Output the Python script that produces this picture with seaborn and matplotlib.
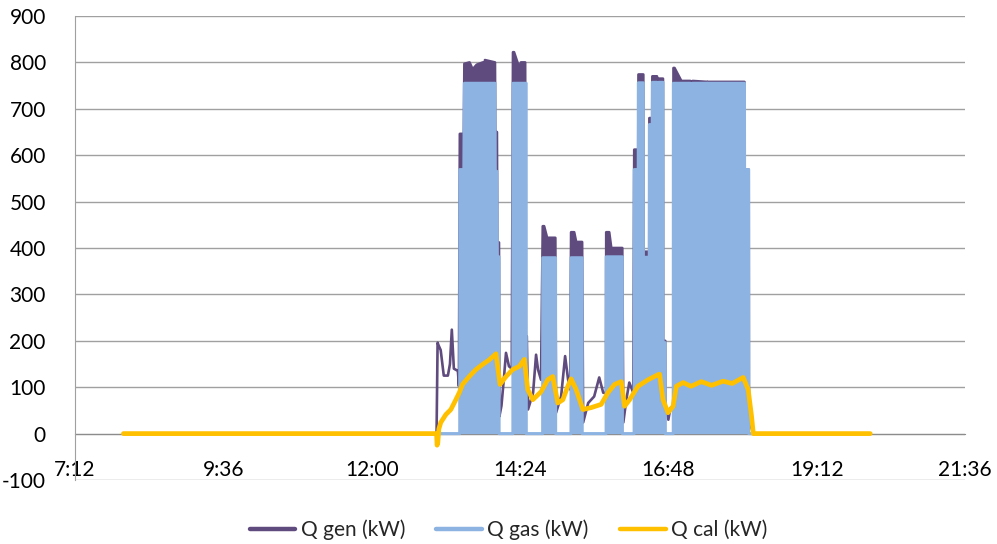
import numpy as np
import matplotlib
matplotlib.use("Agg")
import matplotlib.pyplot as plt
from matplotlib.lines import Line2D
import seaborn as sns

# ------------------------------------------------------------------
# Data (clock time, kW)
# ------------------------------------------------------------------
gen_time = ["8:00", "13:03", "13:04", "13:05", "13:07", "13:10", "13:14", "13:16",
            "13:17:48", "13:19:48", "13:23:42", "13:24:42", "13:25:36", "13:29:30",
            "13:30", "13:35", "13:38", "13:42", "13:48", "13:48:48", "13:49:18",
            "13:50", "13:59:42", "14:00", "14:01:36", "14:02", "14:03:36", "14:04",
            "14:06", "14:08:24", "14:10:24", "14:13:18", "14:16", "14:17:12",
            "14:18:12", "14:23", "14:25", "14:29", "14:29:36", "14:30:36",
            "14:31:48", "14:36:42", "14:39:36", "14:41:30", "14:44:24", "14:46:06",
            "14:47:24", "14:50:18", "14:58:18", "14:59", "15:03:54", "15:07:48",
            "15:10:42", "15:12:42", "15:13:36", "15:16:36", "15:18:30", "15:24:18",
            "15:25:18", "15:30:12", "15:36", "15:40:54", "15:44:48", "15:47:30",
            "15:47:42", "15:50:36", "15:52:36", "16:03:18", "16:04:18", "16:07:12",
            "16:10:06", "16:14", "16:14:54", "16:18:48", "16:19", "16:23:42",
            "16:24", "16:29:30", "16:29:36", "16:32:24", "16:32:30", "16:37",
            "16:37:12", "16:38:24", "16:38:36", "16:42:48", "16:43", "16:45",
            "16:45:12", "16:48", "16:50", "16:52:48", "16:53", "16:54", "17:00:36",
            "17:09:24", "17:09:36", "17:11:18", "17:11:30", "17:25:42", "17:25:54",
            "17:26:12", "18:01:54", "18:02", "18:06", "18:06:12", "18:10:30", "20:04"]
gen_kw = [0, 0, 196, 190, 180, 125, 125, 150,
          224, 140, 135, 102, 646, 646,
          797, 800, 785, 795, 800, 570, 570,
          805, 800, 650, 650, 412, 412, 37,
          60, 120, 174, 145, 140, 822,
          822, 790, 800, 800, 210, 210,
          52, 88, 170, 138, 116, 447,
          447, 422, 422, 45, 80, 167,
          116, 95, 434, 434, 413, 413,
          24, 66, 80, 121, 88, 88,
          434, 434, 400, 400, 24, 73,
          110, 88, 612, 612, 774, 774,
          392, 392, 680, 680, 770, 770,
          727, 727, 765, 765, 200, 200,
          59, 30, 55, 60, 788, 788, 760,
          760, 721, 721, 760, 758, 571,
          758, 758, 569, 569, 30, 0, 0]

gas_time = ["8:00", "13:25:30", "13:25:36", "13:29:30", "13:30", "13:48:36",
            "13:48:48", "13:49:24", "13:49:36", "13:59:42", "14:00", "14:01:36",
            "14:02", "14:03:36", "14:03:42", "14:17:06", "14:17:12", "14:30",
            "14:30:06", "14:46", "14:46:06", "14:58:30", "14:58:36", "15:13:30",
            "15:13:36", "15:24:18", "15:24:24", "15:47:36", "15:47:42", "16:03:18",
            "16:03:24", "16:14:48", "16:14:54", "16:18:48", "16:18:54", "16:23:42",
            "16:23:48", "16:29:30", "16:29:36", "16:32:24", "16:32:30", "16:37",
            "16:37:06", "16:38:30", "16:38:36", "16:42:48", "16:42:54", "16:45",
            "16:45:06", "16:52:48", "16:52:54", "17:09:24", "17:09:30", "17:11:18",
            "17:11:24", "17:25:42", "17:25:54", "17:26:06", "18:01:54", "18:02",
            "18:06", "18:06:06", "20:04"]
gas_kw = [0, 0, 569, 569, 755, 755,
          570, 570, 755, 755, 565, 565,
          381, 381, 0, 0, 755, 755,
          0, 0, 379, 379, 0, 0,
          379, 379, 0, 0, 381, 381,
          0, 0, 569, 569, 756, 756,
          380, 380, 666, 666, 757, 757,
          715, 715, 757, 757, 196, 196,
          0, 0, 755, 755, 715, 715,
          755, 755, 571, 755, 755, 569,
          569, 0, 0]

cal_time = ["7:59", "13:03", "13:03:30", "13:04:12", "13:05:12", "13:07:06", "13:12",
            "13:16:54", "13:21:42", "13:25", "13:28:12", "13:34:42", "13:41:12",
            "13:47:42", "13:54:06", "14:00:42", "14:04:36", "14:10:24", "14:16:54",
            "14:23:24", "14:28:12", "14:31:30", "14:36:24", "14:44:24", "14:50:54",
            "14:55:48", "15:00:42", "15:05:36", "15:10:24", "15:13:36", "15:18:30",
            "15:25", "15:33:06", "15:42:48", "15:49:18", "15:55:48", "16:02:18",
            "16:05:30", "16:10:24", "16:18:30", "16:28:18", "16:38", "16:39:30",
            "16:42:48", "16:47:42", "16:52:36", "16:55:48", "17:02:18", "17:10",
            "17:20", "17:30", "17:41:12", "17:50", "18:00:42", "18:05:30",
            "18:08:48", "18:10:30", "20:04"]
cal_kw = [0, 0, -25, -20, 10, 24, 41,
          52, 73, 88, 106, 123, 138,
          149, 159, 172, 106, 123, 138,
          145, 160, 95, 73, 90, 116,
          123, 66, 73, 102, 118, 95,
          52, 56, 63, 88, 106, 112,
          59, 73, 102, 116, 127, 128,
          73, 45, 59, 102, 110, 102,
          112, 104, 113, 108, 121, 95,
          37, 0, 0]

x_ticks = ["7:12", "9:36", "12:00", "14:24", "16:48", "19:12", "21:36"]
y_ticks = [-100, 0, 100, 200, 300, 400, 500, 600, 700, 800, 900]
series_names = ["Q gen (kW)", "Q gas (kW)", "Q cal (kW)"]
colors = ["#5F4B7E", "#8DB3E2", "#FFC000"]


def to_hours(s):
    parts = [int(p) for p in s.split(":")]
    while len(parts) < 3:
        parts.append(0)
    return parts[0] + parts[1] / 60 + parts[2] / 3600


t_gen = np.array([to_hours(s) for s in gen_time])
t_gas = np.array([to_hours(s) for s in gas_time])
t_cal = np.array([to_hours(s) for s in cal_time])
t_ticks = [to_hours(s) for s in x_ticks]

sns.set_style("white")
plt.rcParams["font.family"] = ["Lato", "DejaVu Sans"]
plt.rcParams["font.size"] = 15
plt.rcParams["axes.unicode_minus"] = False

fig = plt.figure(figsize=(9.97, 5.44), dpi=100)
ax = fig.add_axes([75 / 997, 64 / 544, 890 / 997, 464 / 544])

grid_c = "#a0a0a0"

# Q gen oscillates together with Q gas: solid band only while the burner runs
running = np.interp(t_gen, t_gas, gas_kw) > 0
ax.fill_between(t_gen, 0, gen_kw, where=running, color=colors[0],
                linewidth=0, zorder=3)
sns.lineplot(x=t_gen, y=gen_kw, estimator=None, sort=False, color=colors[0],
             linewidth=1.9, ax=ax, zorder=3)
ax.fill_between(t_gas, 0, gas_kw, color=colors[1], linewidth=0, zorder=4)
sns.lineplot(x=t_gas, y=gas_kw, estimator=None, sort=False, color=colors[1],
             linewidth=2.2, ax=ax, zorder=4)
sns.lineplot(x=t_cal, y=cal_kw, estimator=None, sort=False, color=colors[2],
             linewidth=3.4, ax=ax, zorder=5)

ax.set_xlim(t_ticks[0], t_ticks[-1])
ax.set_ylim(-100, 900)
ax.set_xticks(t_ticks)
ax.set_xticklabels(x_ticks)
ax.set_yticks(y_ticks)
ax.set_xlabel("")
ax.set_ylabel("")

ax.grid(axis="y", color=grid_c, linewidth=1.0, zorder=0)
ax.grid(axis="x", visible=False)
for side in ["top", "right"]:
    ax.spines[side].set_visible(False)
ax.spines["bottom"].set_position(("data", 0))
ax.spines["bottom"].set_color("#8c8c8c")
ax.spines["left"].set_color(grid_c)
ax.spines["bottom"].set_zorder(2)
ax.tick_params(axis="x", direction="out", length=6, width=1, color="#8c8c8c",
               pad=13, labelsize=15, labelcolor="black")
ax.tick_params(axis="y", direction="out", length=6, width=1, color=grid_c,
               pad=15, labelsize=15, labelcolor="black")

handles = [Line2D([0], [0], color=c, linewidth=3.2) for c in colors]
fig.legend(handles, series_names, loc="center", bbox_to_anchor=(0.51, 0.026),
           ncol=3, frameon=False, fontsize=15, handlelength=2.2,
           handletextpad=0.25, columnspacing=1.5)

fig.savefig("out.png", dpi=100)
plt.close(fig)
